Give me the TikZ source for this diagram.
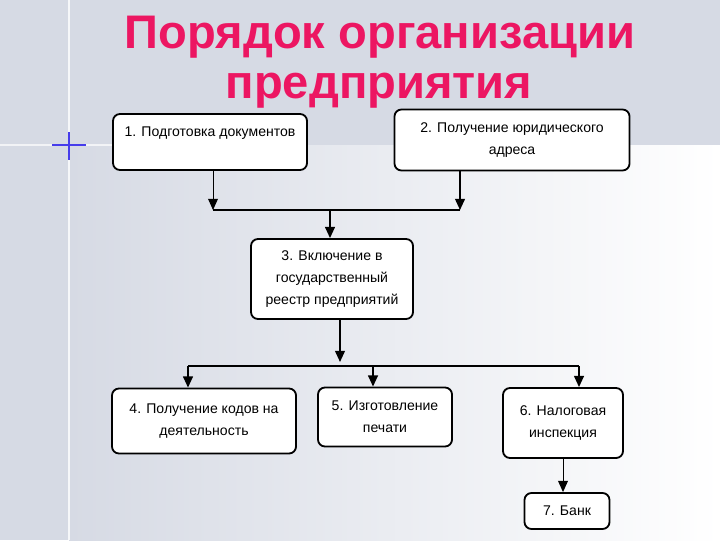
\documentclass[tikz,border=0pt]{standalone}
\usepackage{fontspec}
\setmainfont{Liberation Sans}
\usetikzlibrary{arrows.meta,positioning}
\definecolor{SlideGray}{RGB}{214,218,228}
\definecolor{TitlePink}{RGB}{236,22,98}
\definecolor{SparkBlue}{RGB}{70,60,235}
\tikzset{
  stepbox/.style={draw=black, line width=1.3pt, fill=white, rounded corners=5pt,
    align=center, inner sep=2pt, font=\fontsize{10}{15.5}\selectfont},
  flow/.style={-{Triangle[width=7pt,length=8pt]}, line width=1.3pt},
  thinflow/.style={-{Triangle[width=7pt,length=8pt]}, line width=0.7pt},
  bus/.style={line width=1.3pt},
  titletxt/.style={font=\bfseries\fontsize{33.5}{38}\selectfont, text=TitlePink, anchor=base},
}

\begin{document}
\begin{tikzpicture}[x=0.025cm, y=-0.025cm]
  \useasboundingbox (0,0) rectangle (720,540);
  % slide background
  \fill[SlideGray] (0,0) rectangle (720,540);
  \shade[left color=SlideGray, right color=white] (69,145) rectangle (720,540);
  \draw[white, line width=1.5pt, opacity=0.8] (69,0) -- (69,540);
  \draw[white, line width=1.5pt, opacity=0.7] (0,145) -- (115,145);
  \draw[SparkBlue, line width=1.1pt] (52,145) -- (86,145);
  \draw[SparkBlue, line width=1.1pt] (69,132) -- (69,160);

  % title
  \node[titletxt] (title1) at (380,48) {Порядок организации};
  \node[titletxt] (title2) at (379,98) {предприятия};

  % steps
  \node[stepbox, minimum width=4.85cm, minimum height=1.4cm] (b1) at (210,142) {1. Подготовка документов\\[-5pt] \strut};
  \node[stepbox, minimum width=5.875cm, minimum height=1.525cm] (b2) at (512,140) {2. Получение юридического\\адреса};
  \node[stepbox, minimum width=4.05cm, minimum height=2cm] (b3) at (332,279) {3. Включение в\\государственный\\реестр предприятий};
  \node[stepbox, minimum width=4.6cm, minimum height=1.625cm] (b4) at (204,421) {4. Получение кодов на\\деятельность};
  \node[stepbox, minimum width=3.35cm, minimum height=1.475cm] (b5) at (385,417) {5. Изготовление\\печати};
  \node[stepbox, minimum width=3cm, minimum height=1.75cm] (b6) at (563,423) {6. Налоговая\\инспекция};
  \node[stepbox, minimum width=2.125cm, minimum height=0.9cm] (b7) at (567,511) {7. Банк};

  % joints
  \coordinate (j1) at (213,210);
  \coordinate (j2) at (460,210);
  \coordinate (jm) at (330,210);
  \coordinate (km) at (340,362);
  \coordinate (k4) at (188,366);
  \coordinate (k5) at (373,366);
  \coordinate (k6) at (579,366);

  % connectors
  \draw[thinflow] (j1 |- b1.south) -- (j1);
  \draw[flow] (j2 |- b2.south) -- (j2);
  \draw[bus] (j1) -- (j2);
  \draw[flow] (jm) -- (jm |- b3.north);
  \draw[flow] (km |- b3.south) -- (km);
  \draw[bus] (k4) -- (k6);
  \draw[flow] (k4) -- (k4 |- b4.north);
  \draw[flow] (k5) -- (k5 |- b5.north);
  \draw[flow] (k6) -- (k6 |- b6.north);
  \draw[thinflow] (b6.south) -- (b6.south |- b7.north);
\end{tikzpicture}
\end{document}
